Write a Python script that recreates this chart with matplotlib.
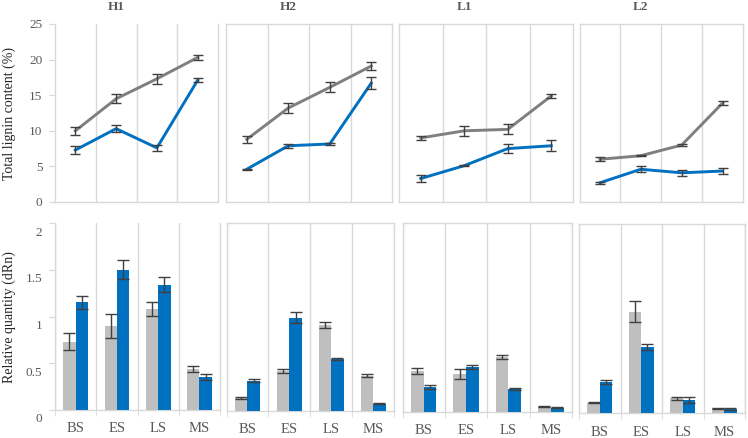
import numpy as np
import matplotlib
matplotlib.use('Agg')
import matplotlib.pyplot as plt
from matplotlib.transforms import ScaledTranslation

plt.rcParams['font.family'] = ['Liberation Serif', 'DejaVu Serif']

panels = ['H1', 'H2', 'L1', 'L2']
stages = ['BS', 'ES', 'LS', 'MS']

# total lignin content (%) - grey and blue lines
lig_grey = {'H1': [10.0, 14.5, 17.3, 20.3], 'H2': [8.8, 13.2, 16.1, 19.1],
            'L1': [9.0, 10.0, 10.2, 14.9], 'L2': [6.0, 6.5, 8.0, 13.9]}
lig_grey_err = {'H1': [0.6, 0.6, 0.7, 0.4], 'H2': [0.5, 0.7, 0.7, 0.5],
                'L1': [0.3, 0.7, 0.7, 0.3], 'L2': [0.3, 0.1, 0.2, 0.3]}
lig_blue = {'H1': [7.3, 10.3, 7.6, 17.1], 'H2': [4.6, 7.9, 8.15, 16.7],
            'L1': [3.3, 5.1, 7.5, 7.9], 'L2': [2.7, 4.6, 4.1, 4.35]}
lig_blue_err = {'H1': [0.6, 0.5, 0.4, 0.3], 'H2': [0.1, 0.3, 0.2, 0.8],
                'L1': [0.5, 0.1, 0.6, 0.8], 'L2': [0.15, 0.4, 0.4, 0.4]}

# relative quantity (dRn) - grey and blue bars
rq_grey = {'H1': [0.73, 0.90, 1.08, 0.44], 'H2': [0.13, 0.42, 0.91, 0.37],
           'L1': [0.43, 0.40, 0.58, 0.05], 'L2': [0.11, 1.07, 0.155, 0.05]}
rq_grey_err = {'H1': [0.09, 0.13, 0.07, 0.03], 'H2': [0.01, 0.02, 0.03, 0.015],
               'L1': [0.03, 0.05, 0.02, 0.005], 'L2': [0.005, 0.11, 0.015, 0.005]}
rq_blue = {'H1': [1.15, 1.50, 1.34, 0.35], 'H2': [0.32, 0.99, 0.55, 0.07],
           'L1': [0.26, 0.47, 0.24, 0.04], 'L2': [0.33, 0.70, 0.14, 0.04]}
rq_blue_err = {'H1': [0.07, 0.10, 0.08, 0.03], 'H2': [0.02, 0.06, 0.015, 0.005],
               'L1': [0.02, 0.02, 0.01, 0.005], 'L2': [0.02, 0.03, 0.03, 0.01]}

GREY_LINE = '#7f7f7f'
GREY_BAR = '#bfbfbf'
BLUE = '#0070c0'
ERR = '#404040'
FRAME = '#d9d9d9'
TXT = '#595959'

W, H = 748, 438
fig = plt.figure(figsize=(W / 100, H / 100), dpi=100)

# axes boxes in pixels (left, top, right, bottom)
top_boxes = {'H1': (55, 24, 218, 202), 'H2': (226, 24, 392, 202),
             'L1': (399, 24, 573, 202), 'L2': (579.5, 24, 743, 202)}
bot_boxes = {'H1': (55, 223, 220, 410), 'H2': (226.5, 223, 394, 410.5),
             'L1': (402.5, 223, 572, 411.5), 'L2': (579, 224, 745, 413)}


def px_axes(box):
    l, t, r, b = box
    return fig.add_axes([l / W, 1 - b / H, (r - l) / W, (b - t) / H])


def frame(ax, name):
    for s in ax.spines.values():
        s.set_color(FRAME)
        s.set_linewidth(1)
    if name == 'H1':
        ax.spines['top'].set_visible(False)
    ax.set_xlim(-0.5, 3.5)
    ax.set_xticks([0.5, 1.5, 2.5], minor=True)
    ax.grid(which='minor', axis='x', color=FRAME, lw=1)
    ax.tick_params(axis='y', colors=FRAME, labelcolor=TXT, labelsize=9.5,
                   length=4, pad=5)
    if name != 'H1':
        ax.tick_params(axis='y', left=False, labelleft=False)


x = np.arange(len(stages))

for name in panels:
    # top row: lines
    ax = px_axes(top_boxes[name])
    frame(ax, name)
    ax.plot(x, lig_grey[name], color=GREY_LINE, lw=2.1, zorder=3)
    ax.plot(x, lig_blue[name], color=BLUE, lw=2.1, zorder=3)
    ax.errorbar(x, lig_grey[name], yerr=lig_grey_err[name], fmt='none',
                ecolor=ERR, elinewidth=1, capsize=3.5, capthick=1, zorder=4)
    ax.errorbar(x, lig_blue[name], yerr=lig_blue_err[name], fmt='none',
                ecolor=ERR, elinewidth=1, capsize=3.5, capthick=1, zorder=4)
    ax.set_ylim(0, 25)
    ax.set_yticks([0, 5, 10, 15, 20, 25])
    ax.tick_params(axis='x', which='both', bottom=False, labelbottom=False)
    ax.annotate(name, xy=(1, 1), xycoords=('data', 'axes fraction'),
                xytext=(0, 12.5), textcoords='offset points', ha='center',
                va='center', fontsize=9.5, fontweight='bold', color=TXT)

    # bottom row: bars
    ax = px_axes(bot_boxes[name])
    frame(ax, name)
    ax.bar(x - 0.15, rq_grey[name], width=0.3, color=GREY_BAR, zorder=3)
    ax.bar(x + 0.15, rq_blue[name], width=0.3, color=BLUE, zorder=3)
    ax.errorbar(x - 0.15, rq_grey[name], yerr=rq_grey_err[name], fmt='none',
                ecolor=ERR, elinewidth=1, capsize=4, capthick=1, zorder=4)
    ax.errorbar(x + 0.15, rq_blue[name], yerr=rq_blue_err[name], fmt='none',
                ecolor=ERR, elinewidth=1, capsize=4, capthick=1, zorder=4)
    ax.set_ylim(0, 2)
    ax.set_yticks([0, 0.5, 1, 1.5, 2])
    ax.set_yticklabels(['0', '0.5', '1', '1.5', '2'])
    ax.set_xticks(x)
    ax.set_xticklabels(stages)
    ax.set_xticks([-0.5, 0.5, 1.5, 2.5, 3.5], minor=True)
    ax.tick_params(axis='x', which='major', length=0, pad=9, labelsize=10.5,
                   labelcolor=TXT)
    ax.tick_params(axis='x', which='minor', length=4, color=FRAME)
    if name == 'H1':
        shift = ScaledTranslation(0, -8 / 100, fig.dpi_scale_trans)
        for lab in ax.get_yticklabels():
            lab.set_transform(lab.get_transform() + shift)

fig.text(9 / W, 1 - 113 / H, 'Total lignin content (%)', rotation=90,
         ha='center', va='center', fontsize=10, color='#262626')
fig.text(9 / W, 1 - 317 / H, 'Relative quantity (dRn)', rotation=90,
         ha='center', va='center', fontsize=10, color='#262626')

fig.savefig('out.png', dpi=100)
